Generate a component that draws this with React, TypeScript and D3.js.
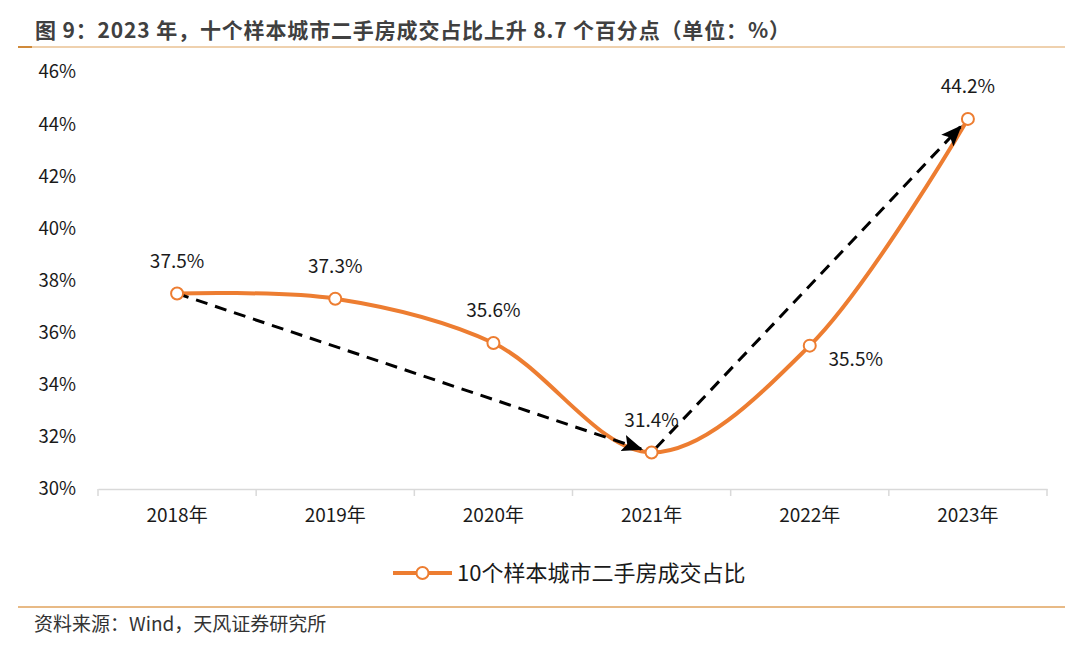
import { useEffect, useRef } from 'react';
import * as d3 from 'd3';

const YEARS = ['2018年', '2019年', '2020年', '2021年', '2022年', '2023年'];
const SHARE = [37.5, 37.3, 35.6, 31.4, 35.5, 44.2];
const Y_TICKS = [30, 32, 34, 36, 38, 40, 42, 44, 46];
// arrows: [fromIndex, toIndex]
const ARROWS = [[0, 3], [3, 5]];

const ORANGE = '#ED7D31';
const RULE = '#E0A35E';
const TEXT = '#1a1a1a';
const FONT = '"Noto Sans CJK SC", "Noto Sans", sans-serif';

export default function App() {
  const ref = useRef<SVGSVGElement>(null);

  useEffect(() => {
    const svg = d3.select(ref.current);
    svg.selectAll('*').remove();

    const x = d3.scaleBand().domain(YEARS).range([98, 1047]);
    const y = d3.scaleLinear().domain([30, 46]).range([489, 72]);
    const cx = (i: number) => (x(YEARS[i]) as number) + x.bandwidth() / 2;

    // title
    svg.append('text')
      .attr('x', 35).attr('y', 38)
      .attr('font-size', 21).attr('font-weight', 'bold')
      .attr('fill', '#404040').attr('font-family', FONT)
      .attr('textLength', 755)
      .text('图 9：2023 年，十个样本城市二手房成交占比上升 8.7 个百分点（单位：%）');
    svg.append('line').attr('x1', 18).attr('x2', 1065).attr('y1', 47).attr('y2', 47)
      .attr('stroke', RULE).attr('stroke-width', 1.2);
    svg.append('line').attr('x1', 18).attr('x2', 32).attr('y1', 47).attr('y2', 47)
      .attr('stroke', '#D08A3A').attr('stroke-width', 2);

    // y labels
    svg.append('g').selectAll('text').data(Y_TICKS).join('text')
      .attr('x', 76).attr('y', d => y(d)).attr('dy', '0.35em')
      .attr('text-anchor', 'end').attr('font-size', 18.5).attr('fill', TEXT)
      .attr('font-family', FONT)
      .text(d => `${d}%`);

    // x axis
    const xa = svg.append('g').attr('transform', 'translate(0,489)')
      .call(d3.axisBottom(x).tickSize(0).tickPadding(20));
    xa.select('.domain').attr('stroke', '#d9d9d9').attr('stroke-width', 1.5);
    xa.selectAll('text').attr('font-size', 19).attr('fill', TEXT).attr('font-family', FONT);
    const bounds = YEARS.map(d => x(d) as number).concat([x.range()[1]]);
    xa.selectAll('.sep').data(bounds).join('line')
      .attr('x1', d => d).attr('x2', d => d).attr('y1', 0).attr('y2', 7)
      .attr('stroke', '#d9d9d9').attr('stroke-width', 1.5);

    // series line
    const line = d3.line<number>()
      .x((_, i) => cx(i)).y(d => y(d))
      .curve(d3.curveCatmullRom.alpha(0.5));
    svg.append('path').datum(SHARE).attr('d', line)
      .attr('fill', 'none').attr('stroke', ORANGE).attr('stroke-width', 4);

    // arrows
    const defs = svg.append('defs');
    defs.append('marker').attr('id', 'ah').attr('viewBox', '0 0 10 10')
      .attr('refX', 9).attr('refY', 5).attr('markerWidth', 7).attr('markerHeight', 7)
      .attr('markerUnits', 'strokeWidth').attr('orient', 'auto')
      .append('path').attr('d', 'M0,1 L10,5 L0,9 L2,5 Z').attr('fill', '#000');
    ARROWS.forEach(([a, b]) => {
      const x1 = cx(a), y1 = y(SHARE[a]);
      const x2 = cx(b), y2 = y(SHARE[b]);
      const len = Math.hypot(x2 - x1, y2 - y1);
      const ux = (x2 - x1) / len, uy = (y2 - y1) / len;
      const s = a === 3 ? 6 : 0;
      svg.append('line')
        .attr('x1', x1 + ux * s).attr('y1', y1 + uy * s)
        .attr('x2', x2 - ux * 11).attr('y2', y2 - uy * 11)
        .attr('stroke', '#000').attr('stroke-width', 3)
        .attr('stroke-dasharray', '12,8')
        .attr('marker-end', 'url(#ah)');
    });

    // markers
    svg.append('g').selectAll('circle').data(SHARE).join('circle')
      .attr('cx', (_, i) => cx(i)).attr('cy', d => y(d)).attr('r', 6)
      .attr('fill', '#fff').attr('stroke', ORANGE).attr('stroke-width', 2);

    // value labels
    svg.append('g').selectAll('text').data(SHARE).join('text')
      .attr('x', (_, i) => i === 4 ? cx(i) + 46 : cx(i))
      .attr('y', (d, i) => i === 4 ? y(d) + 20 : y(d) - 26)
      .attr('text-anchor', 'middle').attr('font-size', 19).attr('fill', TEXT)
      .attr('font-family', FONT)
      .text(d => `${d.toFixed(1)}%`);

    // legend
    const lg = svg.append('g').attr('transform', 'translate(393,573)');
    lg.append('line').attr('x1', 0).attr('x2', 59).attr('y1', 0).attr('y2', 0)
      .attr('stroke', ORANGE).attr('stroke-width', 4);
    lg.append('circle').attr('cx', 29.5).attr('cy', 0).attr('r', 6)
      .attr('fill', '#fff').attr('stroke', ORANGE).attr('stroke-width', 2);
    lg.append('text').attr('x', 64).attr('y', 0).attr('dy', '0.35em')
      .attr('font-size', 22).attr('fill', TEXT).attr('font-family', FONT)
      .text('10个样本城市二手房成交占比');

    // source
    svg.append('line').attr('x1', 18).attr('x2', 1065).attr('y1', 607).attr('y2', 607)
      .attr('stroke', RULE).attr('stroke-width', 1.5);
    svg.append('text').attr('x', 34).attr('y', 631)
      .attr('font-size', 19).attr('fill', '#333').attr('font-family', FONT)
      .text('资料来源：Wind，天风证券研究所');
  }, []);

  return (
    <svg ref={ref} width={1080} height={648}
      style={{ position: 'absolute', left: 0, top: 0, background: '#fff' }} />
  );
}
